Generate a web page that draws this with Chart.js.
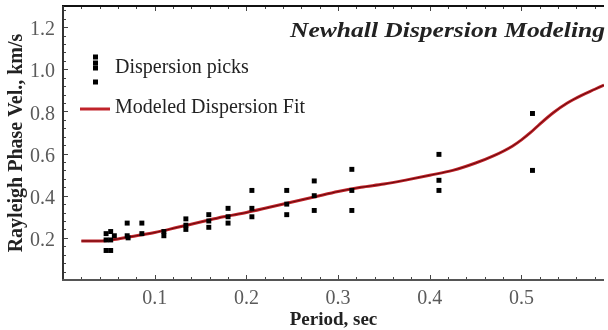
<!DOCTYPE html>
<html>
<head>
<meta charset="utf-8">
<script src="https://cdn.jsdelivr.net/npm/chart.js@4.4.1/dist/chart.umd.min.js"></script>
<style>
  html, body { margin: 0; padding: 0; background: #fff; }
  #wrap { width: 608px; height: 330px; position: relative; }
</style>
</head>
<body>
<div id="wrap"><canvas id="dispersionChart"></canvas></div>
<script>

// --------------------------------------------------------------------------
//                               data
// --------------------------------------------------------------------------

const chartTitle = 'Newhall Dispersion Modeling';
const xAxisLabel = 'Period, sec';
const yAxisLabel = 'Rayleigh Phase Vel., km/s';
const legendLabels = ['Dispersion picks', 'Modeled Dispersion Fit'];

// picked phase velocities (km/s) at each period (sec)
const pickPeriods = [
    0.047, 0.047, 0.047,
    0.052, 0.052, 0.052,
    0.056,
    0.070, 0.070, 0.071,
    0.086, 0.086,
    0.110, 0.110,
    0.134, 0.134, 0.134,
    0.159, 0.159, 0.159,
    0.180, 0.180, 0.180,
    0.206, 0.206, 0.206,
    0.244, 0.244, 0.244,
    0.274, 0.274, 0.274,
    0.315, 0.315, 0.315,
    0.410, 0.410, 0.410,
    0.512, 0.512
];
const pickVelocities = [
    0.22, 0.19, 0.14,
    0.23, 0.19, 0.14,
    0.21,
    0.27, 0.21, 0.20,
    0.27, 0.22,
    0.23, 0.21,
    0.29, 0.26, 0.24,
    0.31, 0.28, 0.25,
    0.34, 0.30, 0.27,
    0.425, 0.34, 0.30,
    0.425, 0.36, 0.31,
    0.47, 0.40, 0.33,
    0.525, 0.425, 0.33,
    0.596, 0.473, 0.425,
    0.79, 0.52
];

// modeled dispersion curve
const fitPeriods = [
    0.02, 0.04, 0.06, 0.08, 0.10, 0.125, 0.15, 0.175, 0.20, 0.225,
    0.25, 0.275, 0.30, 0.325, 0.35, 0.375, 0.40, 0.425, 0.45, 0.47,
    0.49, 0.50, 0.51, 0.52, 0.535, 0.55, 0.565, 0.58, 0.59
];
const fitVelocities = [
    0.185, 0.185, 0.195, 0.21, 0.225, 0.25, 0.275, 0.30, 0.32, 0.345,
    0.37, 0.395, 0.42, 0.44, 0.455, 0.475, 0.497, 0.52, 0.555, 0.59,
    0.635, 0.665, 0.70, 0.74, 0.795, 0.84, 0.875, 0.905, 0.925
];

// --------------------------------------------------------------------------
//                         frame, ticks, legend
// --------------------------------------------------------------------------

const serif = '"Liberation Serif", "Times New Roman", serif';

const frameAndLegend = {
    id: 'frameAndLegend',
    afterDraw(chart) {
        const ctx = chart.ctx;
        const area = chart.chartArea;
        const xs = chart.scales.x;
        const ys = chart.scales.y;

        ctx.save();

        // inward ticks, bottom and top
        ctx.strokeStyle = '#444';
        ctx.lineWidth = 1;
        for (let i = 1; i * 0.02 < xs.max; i++) {
            const px = Math.round(xs.getPixelForValue(i * 0.02)) + 0.5;
            const len = (i % 5 === 0) ? 5 : 3;
            ctx.beginPath();
            ctx.moveTo(px, area.bottom);
            ctx.lineTo(px, area.bottom - len);
            ctx.moveTo(px, area.top);
            ctx.lineTo(px, area.top + len);
            ctx.stroke();
        }
        // inward ticks, left
        for (let i = 1; i * 0.04 < ys.max; i++) {
            const v = i * 0.04;
            const py = Math.round(ys.getPixelForValue(v)) + 0.5;
            const major = Math.abs(v * 5 - Math.round(v * 5)) < 1e-6;
            ctx.beginPath();
            ctx.moveTo(area.left, py);
            ctx.lineTo(area.left + (major ? 5 : 3), py);
            ctx.stroke();
        }

        // frame lines
        ctx.lineWidth = 2;
        ctx.strokeStyle = '#111';
        ctx.beginPath();
        ctx.moveTo(area.left - 1, area.top);
        ctx.lineTo(area.right, area.top);
        ctx.stroke();
        ctx.strokeStyle = '#333';
        ctx.beginPath();
        ctx.moveTo(area.left, area.top);
        ctx.lineTo(area.left, area.bottom + 1);
        ctx.stroke();
        ctx.strokeStyle = '#555';
        ctx.beginPath();
        ctx.moveTo(area.left - 1, area.bottom);
        ctx.lineTo(area.right, area.bottom);
        ctx.stroke();

        // title, stretched to the width it has in the original
        ctx.fillStyle = '#222';
        ctx.font = 'italic bold 21px ' + serif;
        ctx.textAlign = 'left';
        ctx.textBaseline = 'alphabetic';
        const tw = ctx.measureText(chartTitle).width;
        ctx.save();
        ctx.translate(290, 37);
        ctx.scale(315 / tw, 1);
        ctx.fillText(chartTitle, 0, 0);
        ctx.restore();

        // legend
        ctx.font = '20px ' + serif;
        ctx.textAlign = 'left';
        ctx.textBaseline = 'middle';
        ctx.fillText(legendLabels[0], 115, 68);
        ctx.fillText(legendLabels[1], 115, 108);

        ctx.fillStyle = '#000';
        [57, 63, 68, 82].forEach(function (cy) {
            ctx.fillRect(93, cy - 2.5, 5, 5);
        });

        ctx.strokeStyle = '#c0232a';
        ctx.lineWidth = 3;
        ctx.beginPath();
        ctx.moveTo(80, 109);
        ctx.lineTo(110, 109);
        ctx.stroke();

        ctx.restore();
    }
};

// --------------------------------------------------------------------------
//                              chart
// --------------------------------------------------------------------------

function displayDispersionChart() {

    const ctx = document.getElementById('dispersionChart').getContext('2d');

    const picks = pickPeriods.map((p, i) => ({ x: p, y: pickVelocities[i] }));
    const fit = fitPeriods.map((p, i) => ({ x: p, y: fitVelocities[i] }));

    const tickFont = { family: serif, size: 20 };

    const chartData = {
        datasets: [
            {
                type: 'line',
                label: legendLabels[1],
                data: fit,
                borderColor: '#c0232a',
                borderWidth: 3,
                pointRadius: 0,
                cubicInterpolationMode: 'monotone',
                order: 3
            },
            {
                type: 'line',
                label: legendLabels[1] + ' (core)',
                data: fit,
                borderColor: 'rgba(70, 0, 0, 0.75)',
                borderWidth: 1,
                pointRadius: 0,
                cubicInterpolationMode: 'monotone',
                order: 2
            },
            {
                type: 'scatter',
                label: legendLabels[0],
                data: picks,
                pointStyle: 'rect',
                pointRadius: 3.5,
                backgroundColor: '#000',
                borderWidth: 0,
                order: 1
            }
        ]
    };

    const options = {
        animation: false,
        responsive: true,
        maintainAspectRatio: false,
        layout: { padding: { top: 6, right: 0, left: 0, bottom: 0 } },
        plugins: {
            legend: { display: false },
            tooltip: { enabled: false }
        },
        scales: {
            x: {
                type: 'linear',
                min: 0,
                max: 0.59,
                grid: { display: false, drawTicks: false },
                border: { display: false },
                ticks: {
                    stepSize: 0.1,
                    includeBounds: false,
                    maxRotation: 0,
                    padding: 7,
                    color: '#5a5a5a',
                    font: tickFont,
                    callback: v => (v === 0 ? '' : v.toFixed(1))
                },
                title: {
                    display: true,
                    text: xAxisLabel,
                    color: '#222',
                    font: { family: serif, size: 19, weight: 'bold', lineHeight: 1 },
                    padding: { top: 0, bottom: 0 }
                },
                afterFit: scale => {
                    scale.height = 50;
                    scale.paddingLeft = 0;
                    scale.paddingRight = 0;
                }
            },
            y: {
                min: 0,
                max: 1.3,
                grid: { display: false, drawTicks: false },
                border: { display: false },
                ticks: {
                    stepSize: 0.2,
                    includeBounds: false,
                    padding: 8,
                    labelOffset: 3,
                    color: '#5a5a5a',
                    font: tickFont,
                    callback: v => (v === 0 ? '' : v.toFixed(1))
                },
                title: {
                    display: true,
                    text: yAxisLabel,
                    color: '#222',
                    font: { family: serif, size: 20, weight: 'bold' },
                    padding: { top: 5, bottom: 0 }
                },
                afterFit: scale => {
                    scale.width = 63;
                    scale.paddingTop = 0;
                    scale.paddingBottom = 0;
                }
            }
        }
    };

    window.dispersionChart = new Chart(ctx, {
        data: chartData,
        options: options,
        plugins: [frameAndLegend]
    });
}

displayDispersionChart();
</script>
</body>
</html>
